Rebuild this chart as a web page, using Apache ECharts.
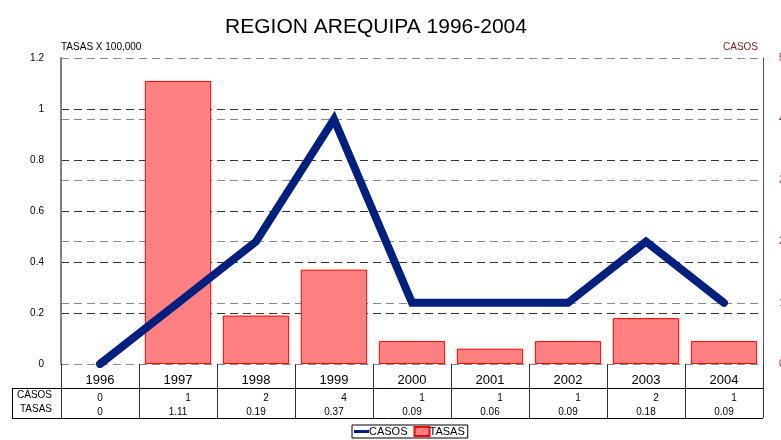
<!DOCTYPE html>
<html>
<head>
<meta charset="utf-8">
<script src="https://cdn.jsdelivr.net/npm/echarts@6/dist/echarts.min.js"></script>
<style>
  html, body { margin: 0; padding: 0; background: #fff; }
  #chart { width: 781px; height: 440px; }
</style>
</head>
<body>
<div id="chart"></div>
<script>
// Years, cases and rates per 100,000 for the Arequipa region
const years = ['1996', '1997', '1998', '1999', '2000', '2001', '2002', '2003', '2004'];
const casos = [0, 1, 2, 4, 1, 1, 1, 2, 1];
const tasas = [0, 1.11, 0.19, 0.37, 0.09, 0.06, 0.09, 0.18, 0.09];

const FONT = 'Liberation Sans, Arial, sans-serif';

const chart = echarts.init(document.getElementById('chart'), null, { renderer: 'canvas' });

// Category labels double as the data table: year, then CASOS row, then TASAS row
const tableLabel = (value, idx) => {
  const c = casos[idx];
  const cStyle = c === 0 ? 'c0' : 'c';
  return '{y|' + value + '}\n{' + cStyle + '|' + c + '}\n{t|' + tasas[idx] + '}';
};

// zero-height bars get no outline
const barData = tasas.map(v => ({
  value: v,
  itemStyle: v === 0 ? { borderWidth: 0 } : undefined
}));

const option = {
  backgroundColor: '#ffffff',
  animation: false,
  title: {
    text: 'REGION AREQUIPA 1996-2004',
    left: 371,
    textAlign: 'center',
    top: 12,
    textStyle: { fontFamily: FONT, fontSize: 21, fontWeight: 'normal', color: '#000' }
  },
  legend: {
    left: 352,
    top: 425,
    orient: 'horizontal',
    padding: [1, 3, 1, 2],
    itemGap: 6,
    itemWidth: 15,
    itemHeight: 9,
    borderColor: '#000',
    borderWidth: 1,
    textStyle: { fontFamily: FONT, fontSize: 11, color: '#000', padding: [0, 0, 0, -5] },
    data: [
      { name: 'CASOS', icon: 'path://M0,3 L15,3 L15,6 L0,6 Z' },
      { name: 'TASAS', icon: 'rect' }
    ]
  },
  grid: { left: 61, right: 18, top: 58, bottom: 76, containLabel: false, outerBoundsMode: 'none' },
  xAxis: {
    type: 'category',
    data: years,
    boundaryGap: true,
    axisLine: { show: false },
    axisTick: { show: true, length: 54, lineStyle: { color: '#333', width: 1 } },
    axisLabel: {
      margin: 5,
      interval: 0,
      formatter: tableLabel,
      rich: {
        y: { fontFamily: FONT, fontSize: 13, lineHeight: 22, color: '#000' },
        c: { fontFamily: FONT, fontSize: 10, lineHeight: 14, color: '#000', padding: [0, 0, 0, 20] },
        c0: { fontFamily: FONT, fontSize: 10, lineHeight: 14, color: '#000' },
        t: { fontFamily: FONT, fontSize: 10, lineHeight: 14, color: '#000' }
      }
    }
  },
  yAxis: [
    {
      type: 'value',
      min: 0,
      max: 1.2,
      interval: 0.2,
      name: 'TASAS X 100,000',
      nameLocation: 'end',
      nameGap: 6,
      nameTextStyle: { fontFamily: FONT, fontSize: 10, color: '#000', align: 'left' },
      axisLine: { show: true, lineStyle: { color: '#808080', width: 2 } },
      axisTick: { show: false },
      axisLabel: { margin: 17, fontFamily: FONT, fontSize: 10, color: '#000' },
      splitLine: { show: true, lineStyle: { color: '#333', type: [8, 5], width: 1 } }
    },
    {
      type: 'value',
      min: 0,
      max: 5,
      interval: 1,
      position: 'right',
      name: 'CASOS',
      nameLocation: 'end',
      nameGap: 6,
      nameTextStyle: { fontFamily: FONT, fontSize: 10, color: '#7f1f1f', align: 'right', padding: [0, 5, 0, 0] },
      axisLine: { show: true, lineStyle: { color: '#555', width: 1 } },
      axisTick: { show: false },
      axisLabel: { margin: 16, fontFamily: FONT, fontSize: 10, color: '#7f1f1f' },
      splitLine: { show: true, lineStyle: { color: '#888', type: [8, 5], width: 1 } }
    }
  ],
  series: [
    {
      name: 'TASAS',
      type: 'bar',
      yAxisIndex: 0,
      data: barData,
      barCategoryGap: '15%',
      itemStyle: { color: '#ff8080', borderColor: '#ff0000', borderWidth: 1 },
      z: 2
    },
    {
      name: 'CASOS',
      type: 'line',
      yAxisIndex: 1,
      data: casos,
      symbol: 'none',
      lineStyle: { color: '#002080', width: 8, cap: 'round', join: 'miter' },
      itemStyle: { color: '#002080' },
      z: 3
    }
  ],
  graphic: [
    // data table frame and row headings
    { type: 'line', shape: { x1: 12, y1: 388.5, x2: 763, y2: 388.5 }, style: { stroke: '#000', lineWidth: 1 } },
    { type: 'line', shape: { x1: 12, y1: 418.5, x2: 763, y2: 418.5 }, style: { stroke: '#000', lineWidth: 1 } },
    { type: 'line', shape: { x1: 12.5, y1: 388, x2: 12.5, y2: 419 }, style: { stroke: '#000', lineWidth: 1 } },
    { type: 'text', right: 781 - 52, top: 390, style: { text: 'CASOS', font: '10px ' + FONT, fill: '#000', textAlign: 'right' } },
    { type: 'text', right: 781 - 52, top: 404, style: { text: 'TASAS', font: '10px ' + FONT, fill: '#000', textAlign: 'right' } }
  ]
};

chart.setOption(option);
</script>
</body>
</html>
